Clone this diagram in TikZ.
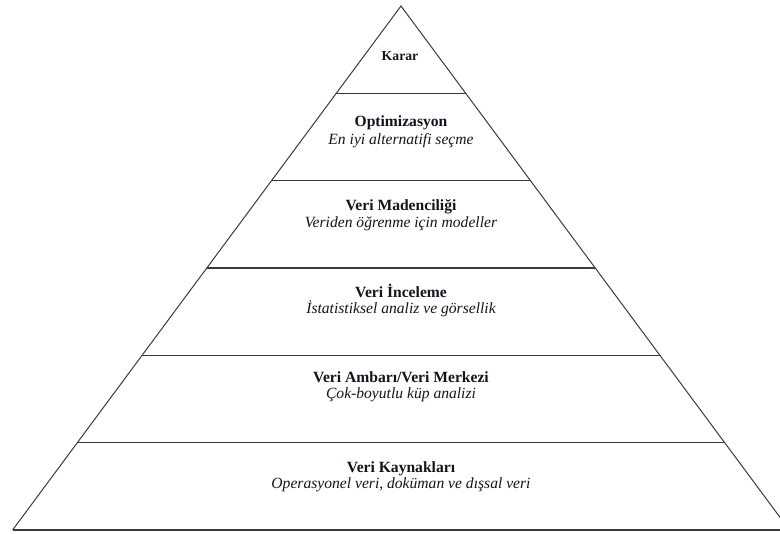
\documentclass[tikz,border=0pt]{standalone}
\usepackage{fontspec}
\setmainfont{Liberation Serif}
\usetikzlibrary{calc}
\definecolor{edgecol}{HTML}{3A3A3A}
\definecolor{txtcol}{HTML}{14141E}
\begin{document}
\begin{tikzpicture}[x=0.75pt,y=-0.75pt,
  slant/.style={draw=edgecol,line width=0.75pt},
  divider/.style={draw=edgecol,line width=1.15pt},
  ttl/.style={font=\fontsize{11.7}{13}\selectfont\bfseries,text=txtcol,inner sep=0pt,anchor=base},
  sub/.style={font=\fontsize{11.7}{13}\selectfont\itshape,text=txtcol,inner sep=0pt,anchor=base}]
\useasboundingbox (0,0) rectangle (780,534);
\clip (0,0) rectangle (780,534);
\coordinate (A) at (401,6);
\coordinate (BL) at (12.6,530);
\coordinate (BR) at (789.4,530);
% outline
\draw[slant] (BL) -- (A) -- (BR);
\draw[divider] (BL) -- (BR);
% dividers
\foreach \k in {1,...,5}{
  \draw[divider] ($(A)!\k/6!(BL)$) -- ($(A)!\k/6!(BR)$);
}
% labels
\node[ttl,font=\fontsize{10.3}{12}\selectfont\bfseries] (karar) at (400,61) {Karar};
\node[ttl] (opt) at (401,127) {Optimizasyon};
\node[sub] (optsub) at (401,145) {En iyi alternatifi seçme};
\node[ttl] (mad) at (401,211) {Veri Madenciliği};
\node[sub] (madsub) at (401,228) {Veriden öğrenme için modeller};
\node[ttl] (inc) at (401,297) {Veri İnceleme};
\node[sub] (incsub) at (401,313) {İstatistiksel analiz ve görsellik};
\node[ttl] (amb) at (401,382) {Veri Ambarı/Veri Merkezi};
\node[sub] (ambsub) at (401,398) {Çok-boyutlu küp analizi};
\node[ttl] (kay) at (401,472) {Veri Kaynakları};
\node[sub] (kaysub) at (401,488) {Operasyonel veri, doküman ve dışsal veri};
\end{tikzpicture}
\end{document}
